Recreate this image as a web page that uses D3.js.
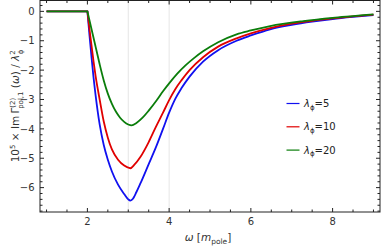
<!DOCTYPE html>
<html>
<head>
<meta charset="utf-8">
<script src="https://cdn.jsdelivr.net/npm/d3@7.9.0/dist/d3.min.js"></script>
<style>
  body { margin: 0; background: #fff; }
  svg { display: block; font-family: "DejaVu Sans", sans-serif; }
</style>
</head>
<body>
<svg id="chart" width="382" height="248"></svg>
<script>
// values (omega in m_pole, 10^5 Im Gamma / lambda^2)
const omegaBlue = [1, 2, 2.05, 2.1, 2.15, 2.2, 2.3, 2.4, 2.5, 2.6, 2.75, 2.9, 3.0, 3.05, 3.1, 3.2, 3.3, 3.5, 3.67, 3.85, 4.0, 4.15, 4.3, 4.5, 4.83, 5.2, 5.65, 6.0, 6.47, 7.0, 7.5, 8.0, 8.5, 9.0];
const lam5 = [0, 0, -0.8, -1.55, -2.25, -2.85, -3.85, -4.55, -5.05, -5.45, -5.9, -6.22, -6.4, -6.44, -6.4, -6.15, -5.85, -5.2, -4.65, -4.0, -3.45, -2.98, -2.62, -2.22, -1.71, -1.32, -1.0, -0.82, -0.61, -0.46, -0.35, -0.26, -0.19, -0.13];

const omegaRed = [1, 2, 2.05, 2.1, 2.15, 2.2, 2.3, 2.4, 2.5, 2.6, 2.75, 2.9, 3.05, 3.15, 3.3, 3.5, 3.67, 3.85, 4.0, 4.15, 4.3, 4.5, 4.83, 5.2, 5.65, 6.0, 6.47, 7.0, 7.5, 8.0, 8.5, 9.0];
const lam10 = [0, 0, -0.6, -1.15, -1.7, -2.2, -3.0, -3.75, -4.3, -4.7, -5.05, -5.25, -5.34, -5.22, -4.95, -4.45, -3.95, -3.45, -3.02, -2.65, -2.35, -2.0, -1.56, -1.2, -0.92, -0.75, -0.57, -0.42, -0.32, -0.24, -0.17, -0.11];

const omegaGreen = [1, 2, 2.1, 2.2, 2.3, 2.4, 2.5, 2.6, 2.7, 2.8, 2.9, 3.0, 3.08, 3.2, 3.35, 3.5, 3.7, 3.85, 4.0, 4.2, 4.4, 4.6, 4.83, 5.2, 5.65, 6.0, 6.47, 7.28, 8.0, 8.5, 9.0];
const lam20 = [0, 0, -0.6, -1.2, -1.8, -2.35, -2.8, -3.15, -3.42, -3.62, -3.76, -3.85, -3.88, -3.8, -3.62, -3.38, -3.02, -2.72, -2.45, -2.12, -1.84, -1.6, -1.36, -1.05, -0.78, -0.65, -0.5, -0.33, -0.22, -0.16, -0.1];

const legendLabels = ["5", "10", "20"];
const xMajor = [2, 4, 6, 8];
const yMajor = [0, -1, -2, -3, -4, -5, -6];
const gridX = [3, 4];

const series = [
  { omega: omegaBlue, values: lam5, color: "#1010f0", label: legendLabels[0] },
  { omega: omegaRed, values: lam10, color: "#e00000", label: legendLabels[1] },
  { omega: omegaGreen, values: lam20, color: "#0a7d0a", label: legendLabels[2] },
];

const svg = d3.select("#chart");
const pLeft = 40, pRight = 380, pTop = 0.5, pBottom = 212;

const x = d3.scaleLinear().domain([0.84, 9.16]).range([pLeft, pRight]);
const y = d3.scaleLinear().domain([-6.83, 0.37]).range([pBottom, pTop]);

// minor ticks
const xMinor = d3.range(1, 9.01, 0.5).filter(v => !xMajor.includes(v));
const yMinor = d3.range(-6.8, 0.21, 0.2).map(v => Math.round(v * 10) / 10).filter(v => !yMajor.includes(v));

// faint grid lines
svg.selectAll(".grid").data(gridX).join("line")
  .attr("x1", d => x(d)).attr("x2", d => x(d))
  .attr("y1", pTop).attr("y2", pBottom)
  .attr("stroke", "#e6e6e6").attr("stroke-width", 1);

// curves: flat part drawn straight, the dip drawn smooth
const line = d3.line().curve(d3.curveMonotoneX);
series.forEach(s => {
  const pts = s.omega.map((w, i) => [x(w), y(s.values[i])]);
  svg.append("path")
    .attr("d", "M" + pts[0] + "L" + pts[1] + line(pts.slice(1)).replace(/^M/, "L"))
    .attr("fill", "none")
    .attr("stroke", s.color)
    .attr("stroke-width", 1.8);
});

// frame
svg.append("rect")
  .attr("x", pLeft).attr("y", pTop)
  .attr("width", pRight - pLeft).attr("height", pBottom - pTop)
  .attr("fill", "none").attr("stroke", "#222").attr("stroke-width", 1);

// ticks on all four sides, pointing inward
function ticksX(vals, len) {
  vals.forEach(v => {
    svg.append("line").attr("x1", x(v)).attr("x2", x(v)).attr("y1", pBottom).attr("y2", pBottom - len).attr("stroke", "#222");
    svg.append("line").attr("x1", x(v)).attr("x2", x(v)).attr("y1", pTop).attr("y2", pTop + len).attr("stroke", "#222");
  });
}
function ticksY(vals, len) {
  vals.forEach(v => {
    svg.append("line").attr("y1", y(v)).attr("y2", y(v)).attr("x1", pLeft).attr("x2", pLeft + len).attr("stroke", "#222");
    svg.append("line").attr("y1", y(v)).attr("y2", y(v)).attr("x1", pRight).attr("x2", pRight - len).attr("stroke", "#222");
  });
}
ticksX(xMajor, 4);
ticksX(xMinor, 2.5);
ticksY(yMajor, 4);
ticksY(yMinor, 2.5);

// tick labels
svg.selectAll(".xl").data(xMajor).join("text")
  .attr("x", d => x(d)).attr("y", 224.5)
  .attr("text-anchor", "middle").attr("font-size", 10).attr("fill", "#333")
  .text(d => d);
svg.selectAll(".yl").data(yMajor).join("text")
  .attr("x", 34.5).attr("y", d => y(d) + 3.7)
  .attr("text-anchor", "end").attr("font-size", 10).attr("fill", "#333")
  .text(d => d < 0 ? "\u2212" + Math.abs(d) : d);

// x axis title
const xt = svg.append("text").attr("x", 208).attr("y", 241)
  .attr("text-anchor", "middle").attr("font-size", 10.5).attr("fill", "#333");
xt.append("tspan").attr("font-style", "italic").text("\u03c9");
xt.append("tspan").text(" [");
xt.append("tspan").attr("font-style", "italic").text("m");
xt.append("tspan").attr("font-size", 7.5).attr("dy", 2.5).text("pole");
xt.append("tspan").attr("dy", -2.5).text("]");

// y axis title
const yt = svg.append("text")
  .attr("transform", "translate(19,106) rotate(-90)")
  .attr("text-anchor", "middle").attr("font-size", 10.5).attr("fill", "#333");
yt.append("tspan").text("10");
yt.append("tspan").attr("font-size", 7).attr("dy", -4).text("5");
yt.append("tspan").attr("dy", 4).text(" \u00d7 Im\u2009\u0393");
yt.append("tspan").attr("font-size", 7).attr("dy", -4.5).text("(2)");
yt.append("tspan").attr("font-size", 7).attr("dy", 8).attr("dx", -11).text("pol,1");
yt.append("tspan").attr("dy", -3.5).text(" (");
yt.append("tspan").attr("font-style", "italic").text("\u03c9");
yt.append("tspan").text(") / ");
yt.append("tspan").attr("font-style", "italic").text("\u03bb");
yt.append("tspan").attr("font-size", 7).attr("dy", -4.5).text("2");
yt.append("tspan").attr("font-size", 7).attr("dy", 8).attr("dx", -4).text("\u03d5");

// legend
const lg = svg.append("g");
series.forEach((s, i) => {
  const ly = 103.5 + i * 23.3;
  lg.append("line").attr("x1", 286.5).attr("x2", 299.5).attr("y1", ly).attr("y2", ly)
    .attr("stroke", s.color).attr("stroke-width", 1.2);
  const t = lg.append("text").attr("x", 304).attr("y", ly + 3.5)
    .attr("font-size", 10).attr("fill", "#222");
  t.append("tspan").attr("font-style", "italic").text("\u03bb");
  t.append("tspan").attr("font-size", 7).attr("dy", 2.5).text("\u03d5");
  t.append("tspan").attr("dy", -2.5).text("=" + s.label);
});
</script>
</body>
</html>
